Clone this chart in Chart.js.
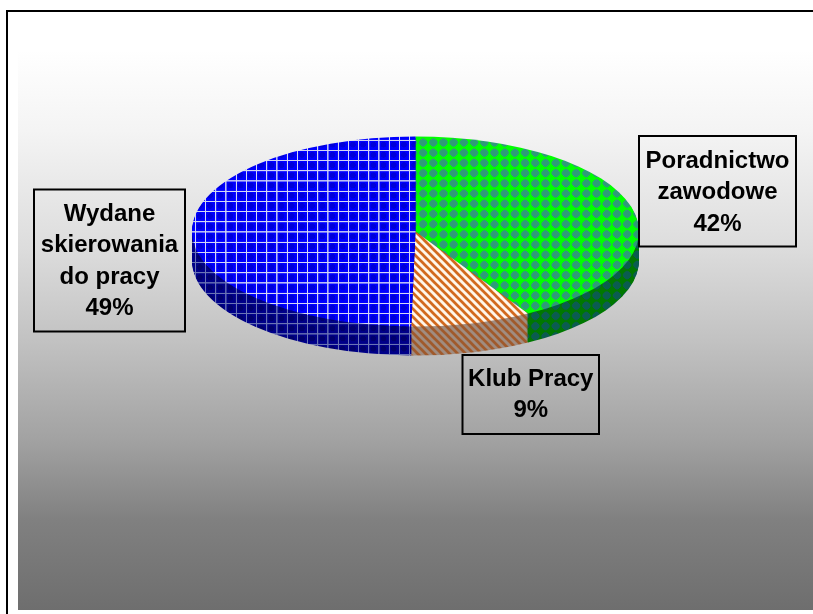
<!DOCTYPE html>
<html lang="pl">
<head>
<meta charset="utf-8">
<title>Wykres</title>
<style>
  html, body { margin: 0; padding: 0; background: #fff; overflow: hidden; }
  canvas { display: block; }
</style>
<script src="https://cdn.jsdelivr.net/npm/chart.js@4/dist/chart.umd.min.js"></script>
</head>
<body>
<canvas id="wykres" width="813" height="614"></canvas>
<script>
// DANE
const categories = ["Poradnictwo zawodowe", "Klub Pracy", "Wydane skierowania do pracy"];
const sliceValues = [41.6, 8.7, 49.7];
const percentLabels = ["42%", "9%", "49%"];
const labelLines = [["Poradnictwo", "zawodowe"], ["Klub Pracy"], ["Wydane", "skierowania", "do pracy"]];

// WYGLAD
const squash = 0.425;
const depth = 29;
const labelBoxes = [
  { left: 639, top: 136, right: 796, bottom: 246.5, firstBaseline: 168 },
  { left: 462.5, top: 355, right: 599, bottom: 434, firstBaseline: 386 },
  { left: 34, top: 189.5, right: 185, bottom: 331.5, firstBaseline: 221 }
];

function tile(size, bg, paint) {
  const c = document.createElement("canvas");
  c.width = c.height = size;
  const g = c.getContext("2d");
  g.fillStyle = bg;
  g.fillRect(0, 0, size, size);
  paint(g);
  return g.createPattern(c, "repeat");
}

function gridTile(bg, dot, line) {
  const p = tile(40, bg, g => {
    g.fillStyle = dot;
    g.beginPath();
    g.arc(20, 20, 11, 0, Math.PI * 2);
    g.fill();
    g.fillStyle = line;
    g.fillRect(0, 0, 40, 4.4);
    g.fillRect(0, 0, 4.4, 40);
  });
  p.tileScale = 10.2 / 40;
  p.phase = [1, 7];
  return p;
}

function dotsTile(bg, dot) {
  const p = tile(40, bg, g => {
    const soft = g.createRadialGradient(20, 20, 8, 20, 20, 19);
    soft.addColorStop(0, dot);
    soft.addColorStop(0.55, dot);
    soft.addColorStop(1, bg);
    g.fillStyle = soft;
    g.beginPath();
    g.moveTo(20, -1);
    g.lineTo(41, 20);
    g.lineTo(20, 41);
    g.lineTo(-1, 20);
    g.closePath();
    g.fill();
  });
  p.tileScale = 10.2 / 40;
  p.phase = [-0.2, 4.8];
  return p;
}

function stripesTile(bg, stripe) {
  const p = tile(40, bg, g => {
    g.strokeStyle = stripe;
    g.lineWidth = 14;
    for (let o = -40; o <= 40; o += 40) {
      g.beginPath();
      g.moveTo(o - 5, -5);
      g.lineTo(o + 45, 45);
      g.stroke();
    }
  });
  p.tileScale = 8 / 40;
  p.phase = [0, 0];
  return p;
}

const topFills = [
  dotsTile("#00ff00", "#2e9c78"),
  stripesTile("#fff6ea", "#d2691e"),
  gridTile("#0000ff", "#0000d8", "#d4d8f4")
];
const sideFills = [
  dotsTile("#007800", "#0b5c50"),
  stripesTile("#a08c80", "#a05a2c"),
  gridTile("#000088", "#00006c", "#6a74b4")
];

// wzorek ma stac w miejscu na ekranie, niezaleznie od splaszczenia kola
function pinPattern(ctx, p) {
  const m = ctx.getTransform().inverse()
    .translate(p.phase[0], p.phase[1])
    .scale(p.tileScale);
  p.setTransform(m);
}

const pie3d = {
  id: "pie3d",
  beforeDraw(chart) {
    const { ctx } = chart;
    const grad = ctx.createLinearGradient(0, 50, 0, 610);
    grad.addColorStop(0, "#ffffff");
    grad.addColorStop(0.143, "#f4f4f4");
    grad.addColorStop(0.357, "#dcdcdc");
    grad.addColorStop(0.518, "#c2c2c2");
    grad.addColorStop(0.696, "#a2a2a2");
    grad.addColorStop(0.84, "#808080");
    grad.addColorStop(1, "#6e6e6e");
    ctx.save();
    ctx.fillStyle = grad;
    ctx.fillRect(18, 12, 795, 598);
    ctx.fillStyle = "#000";
    ctx.fillRect(6, 10, 807, 2);
    ctx.fillRect(6, 10, 2, 604);
    ctx.restore();
  },
  beforeDatasetsDraw(chart) {
    const { ctx } = chart;
    const arcs = chart.getDatasetMeta(0).data;
    const { x, y } = arcs[0];
    // bok tortu: ten sam wycinek powtorzony w dol, ciemniejszym wzorkiem
    for (let d = depth; d >= 1; d--) {
      ctx.save();
      ctx.translate(x, y + d);
      ctx.scale(1, squash);
      ctx.translate(-x, -y);
      arcs.forEach((arc, i) => {
        pinPattern(ctx, sideFills[i]);
        const opts = arc.options;
        arc.options = { backgroundColor: sideFills[i], borderWidth: 0, borderRadius: 0, offset: 0, spacing: 0, circular: true, borderAlign: "center" };
        arc.draw(ctx);
        arc.options = opts;
      });
      ctx.restore();
    }
    ctx.save();
    ctx.translate(x, y);
    ctx.scale(1, squash);
    ctx.translate(-x, -y);
    topFills.forEach(p => pinPattern(ctx, p));
  },
  afterDatasetsDraw(chart) {
    const { ctx } = chart;
    ctx.restore();

    ctx.save();
    ctx.strokeStyle = "#000";
    ctx.lineWidth = 2;
    ctx.fillStyle = "#000";
    ctx.font = 'bold 24px "Liberation Sans", Arial, sans-serif';
    ctx.textAlign = "center";
    ctx.textBaseline = "alphabetic";
    labelBoxes.forEach((b, i) => {
      ctx.strokeRect(b.left, b.top, b.right - b.left, b.bottom - b.top);
      const lines = [...labelLines[i], percentLabels[i]];
      lines.forEach((t, n) => {
        ctx.fillText(t, (b.left + b.right) / 2, b.firstBaseline + n * 31.3);
      });
    });
    ctx.restore();
  }
};

new Chart(document.getElementById("wykres"), {
  type: "pie",
  data: {
    labels: categories,
    datasets: [{
      data: sliceValues,
      backgroundColor: topFills,
      borderWidth: 0,
      clip: false
    }]
  },
  options: {
    responsive: false,
    animation: false,
    radius: 223.5,
    layout: { padding: { left: 18, right: 0, top: 0, bottom: 151 } },
    events: [],
    plugins: { legend: { display: false }, tooltip: { enabled: false }, title: { display: false } }
  },
  plugins: [pie3d]
});
</script>
</body>
</html>
